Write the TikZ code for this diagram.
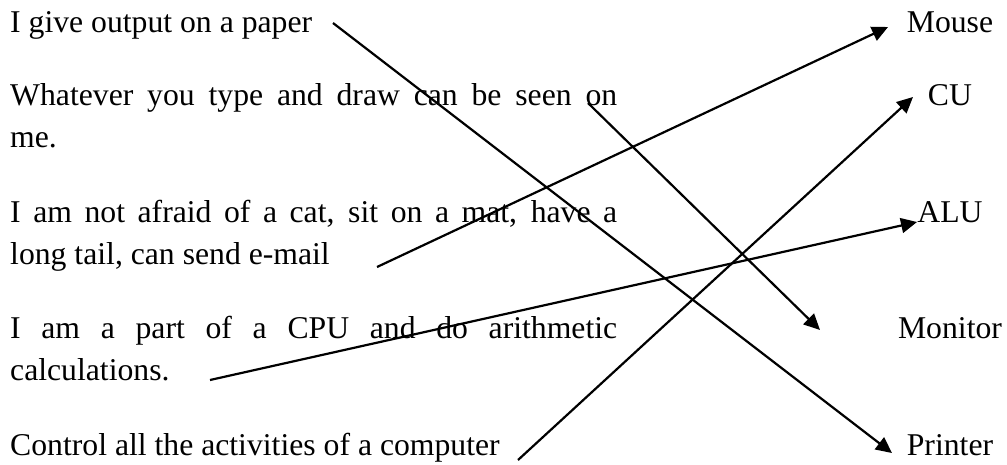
\documentclass[tikz,border=0pt]{standalone}
\usepackage{fontspec}
\setmainfont{Liberation Serif}
\usetikzlibrary{arrows.meta}
\tolerance=10000
\hbadness=10000
\begin{document}
\begin{tikzpicture}[x=1pt,y=-1pt,
  lefttext/.style={anchor=base west, inner sep=0pt, text width=607pt, align=justify,
    font=\fontsize{31.7}{42}\selectfont},
  righttext/.style={anchor=base, inner sep=0pt, font=\fontsize{31.7}{42}\selectfont},
  link/.style={line width=2.2pt, -{Triangle[length=16pt,width=15pt]}}]
\useasboundingbox (0,0) rectangle (1007,464);
% left column
\node[lefttext] (paper) at (10,32) {I give output on a paper};
\node[lefttext] (seen) at (10,105) {Whatever you type and draw can be seen on\linebreak me.};
\node[lefttext] (cat) at (10,222) {I am not afraid of a cat, sit on a mat, have a\linebreak long tail, can send e-mail};
\node[lefttext] (calc) at (10,338) {I am a part of a CPU and do arithmetic\linebreak calculations.};
\node[lefttext] (ctrl) at (10,455) {Control all the activities of a computer};
% right column
\node[righttext] (mouse) at (950,32) {Mouse};
\node[righttext] (cu) at (950,105) {CU};
\node[righttext] (alu) at (950,222) {ALU};
\node[righttext] (monitor) at (950,338) {Monitor};
\node[righttext] (printer) at (950,455) {Printer};
% arrow ends
\coordinate (paperS) at (333,23);
\coordinate (printerE) at (892,453);
\coordinate (seenS) at (588,103);
\coordinate (monitorE) at (820,330);
\coordinate (catS) at (377,267);
\coordinate (mouseE) at (888,27);
\coordinate (calcS) at (210,380);
\coordinate (aluE) at (917,222);
\coordinate (ctrlS) at (518,460);
\coordinate (cuE) at (913,97);
\draw[link] (paperS) -- (printerE);
\draw[link] (seenS) -- (monitorE);
\draw[link] (catS) -- (mouseE);
\draw[link] (calcS) -- (aluE);
\draw[link] (ctrlS) -- (cuE);
\end{tikzpicture}
\end{document}
